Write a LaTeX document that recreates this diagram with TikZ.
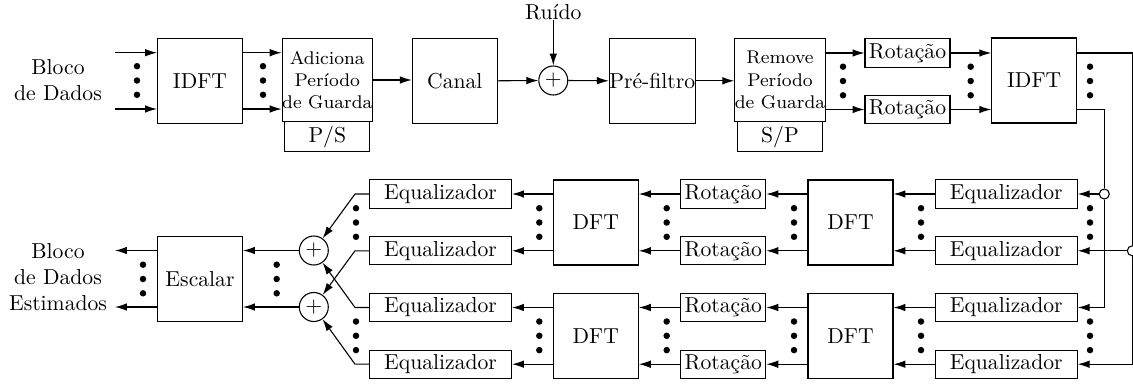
\documentclass[tikz,border=0pt]{standalone}
\usepackage{fontspec}
\setmainfont{Latin Modern Roman}
\usetikzlibrary{arrows.meta}

% one drawing unit
\def\pxu{0.462pt}

\begin{document}
\begin{tikzpicture}[x=0.462pt,y=-0.462pt,line width=0.5pt,
  big/.style={draw,inner sep=0pt,minimum width=85*\pxu,minimum height=85*\pxu},
  rotbox/.style={draw,inner sep=0pt,minimum width=85*\pxu,minimum height=28.3*\pxu},
  eqbox/.style={draw,inner sep=0pt,minimum width=142*\pxu,minimum height=28.3*\pxu},
  upper/.style={draw,inner sep=0pt,minimum width=84.7*\pxu,minimum height=83.4*\pxu,
                align=center,font=\fontsize{8.5}{10.3}\selectfont},
  lower/.style={draw,inner sep=0pt,minimum width=84.7*\pxu,minimum height=30*\pxu},
  sumnode/.style={draw,circle,inner sep=0pt,minimum size=29*\pxu},
  joint/.style={draw,circle,fill=white,inner sep=0pt,minimum size=10*\pxu},
  lbl/.style={align=center,inner sep=0pt},
  arr/.style={-{Latex[length=5.5pt,width=3.5pt]}},
  vdots/.pic={\foreach \d in {-14.3,0,14.3} \fill (0,\d) circle (1.5pt);}
]
\useasboundingbox (0,0) rectangle (1133,387);

% ---------------- transmitter and channel ----------------
\node[lbl] (inlbl) at (58,80) {Bloco\\de Dados};
\node[big] (idft1) at (200,80.8) {IDFT};
\node[upper] (addg) at (327.3,80) {Adiciona\\Período\\de Guarda};
\node[lower] (ps) at (327.3,136.7) {P/S};
\node[big] (canal) at (454.8,80.8) {Canal};
\node[sumnode] (sum0) at (553.3,80.5) {$+$};
\node[lbl] (ruido) at (553.3,12) {Ruído};
\node[big] (pre) at (652.3,80.8) {Pré-filtro};
\node[upper] (rem) at (780,80) {Remove\\Período\\de Guarda};
\node[lower] (sp) at (780,136.7) {S/P};
\node[rotbox] (rot1a) at (907.5,53) {Rotação};
\node[rotbox] (rot1b) at (907.5,109.5) {Rotação};
\node[big] (idft2) at (1034.2,80.5) {IDFT};

\coordinate (ina) at (115,52.7);
\coordinate (inb) at (115,109);

\draw[arr] (ina) -- (ina -| idft1.west);
\draw[arr] (inb) -- (inb -| idft1.west);
\draw[arr] (ina -| idft1.east) -- (ina -| addg.west);
\draw[arr] (inb -| idft1.east) -- (inb -| addg.west);
\draw[arr] (addg.east) -- (addg.east -| canal.west);
\draw[arr] (canal.east) -- (sum0.west);
\draw[arr] (ruido.south) -- (sum0.north);
\draw[arr] (sum0.east) -- (pre.west);
\draw[arr] (pre.east) -- (pre.east -| rem.west);
\draw[arr] (rem.east |- rot1a) -- (rot1a.west);
\draw[arr] (rem.east |- rot1b) -- (rot1b.west);
\draw[arr] (rot1a.east) -- (idft2.west |- rot1a);
\draw[arr] (rot1b.east) -- (idft2.west |- rot1b);

\pic at (137,80.5) {vdots};
\pic at (263,80.5) {vdots};
\pic at (843,81) {vdots};
\pic at (970.7,81) {vdots};
\pic at (1090,81) {vdots};

% ---------------- receiver branches ----------------
\node[eqbox] (eqR1) at (1006.2,194) {Equalizador};
\node[eqbox] (eqR2) at (1006.2,250.8) {Equalizador};
\node[eqbox] (eqR3) at (1006.2,307.5) {Equalizador};
\node[eqbox] (eqR4) at (1006.2,364.2) {Equalizador};

\node[big] (dftR1) at (850.5,222.5) {DFT};
\node[big] (dftR2) at (850.5,335.8) {DFT};

\node[rotbox] (rotM1) at (723.3,194) {Rotação};
\node[rotbox] (rotM2) at (723.3,250.8) {Rotação};
\node[rotbox] (rotM3) at (723.3,307.5) {Rotação};
\node[rotbox] (rotM4) at (723.3,364.2) {Rotação};

\node[big] (dftL1) at (595.8,222.5) {DFT};
\node[big] (dftL2) at (595.8,335.8) {DFT};

\node[eqbox] (eqL1) at (440.5,194) {Equalizador};
\node[eqbox] (eqL2) at (440.5,250.8) {Equalizador};
\node[eqbox] (eqL3) at (440.5,307.5) {Equalizador};
\node[eqbox] (eqL4) at (440.5,364.2) {Equalizador};

\node[sumnode] (sum1) at (313.8,250.5) {$+$};
\node[sumnode] (sum2) at (313.8,307) {$+$};
\node[big] (esc) at (200,278.8) {Escalar};
\node[lbl] (outlbl) at (58,277) {Bloco\\de Dados\\Estimados};

% branch points feeding the equalizers
\node[joint] (j1) at (1104.3,194) {};
\node[joint] (j2) at (1132.3,250.8) {};

\draw (idft2.east |- rot1b) -- (j1 |- rot1b) -- (j1.north);
\draw[arr] (j1.south) -- (j1 |- eqR3) -- (eqR3.east);
\draw[arr] (j1.west) -- (eqR1.east);
\draw (idft2.east |- rot1a) -- (j2 |- rot1a) -- (j2.north);
\draw[arr] (j2.south) -- (j2 |- eqR4) -- (eqR4.east);
\draw[arr] (j2.west) -- (eqR2.east);

% equalizer -> DFT -> rotation -> DFT -> equalizer
\foreach \i/\d in {1/1,2/1,3/2,4/2}{
  \draw[arr] (eqR\i.west) -- (dftR\d.east |- eqR\i);
  \draw[arr] (dftR\d.west |- eqR\i) -- (rotM\i.east);
  \draw[arr] (rotM\i.west) -- (dftL\d.east |- rotM\i);
  \draw[arr] (dftL\d.west |- rotM\i) -- (eqL\i.east);
}

% equalizer outputs to the adders
\coordinate (c1) at (355,194);
\coordinate (c2) at (355,250.8);
\coordinate (c3) at (355,307.5);
\coordinate (c4) at (355,364.2);
\draw[arr] (eqL1.west) -- (c1) -- (sum1);
\draw[arr] (eqL2.west) -- (c2) -- (sum2);
\draw[arr] (eqL3.west) -- (c3) -- (sum1);
\draw[arr] (eqL4.west) -- (c4) -- (sum2);

\draw[arr] (sum1.west) -- (esc.east |- sum1);
\draw[arr] (sum2.west) -- (esc.east |- sum2);

\coordinate (oa) at (115,250.5);
\coordinate (ob) at (115,307);
\draw[arr] (esc.west |- oa) -- (oa);
\draw[arr] (esc.west |- ob) -- (ob);

\foreach \x in {356,539.3,666.7,794,921,1090}{
  \pic at (\x,222.5) {vdots};
  \pic at (\x,335.8) {vdots};
}
\pic at (143,279) {vdots};
\pic at (276.7,279) {vdots};
\end{tikzpicture}
\end{document}
